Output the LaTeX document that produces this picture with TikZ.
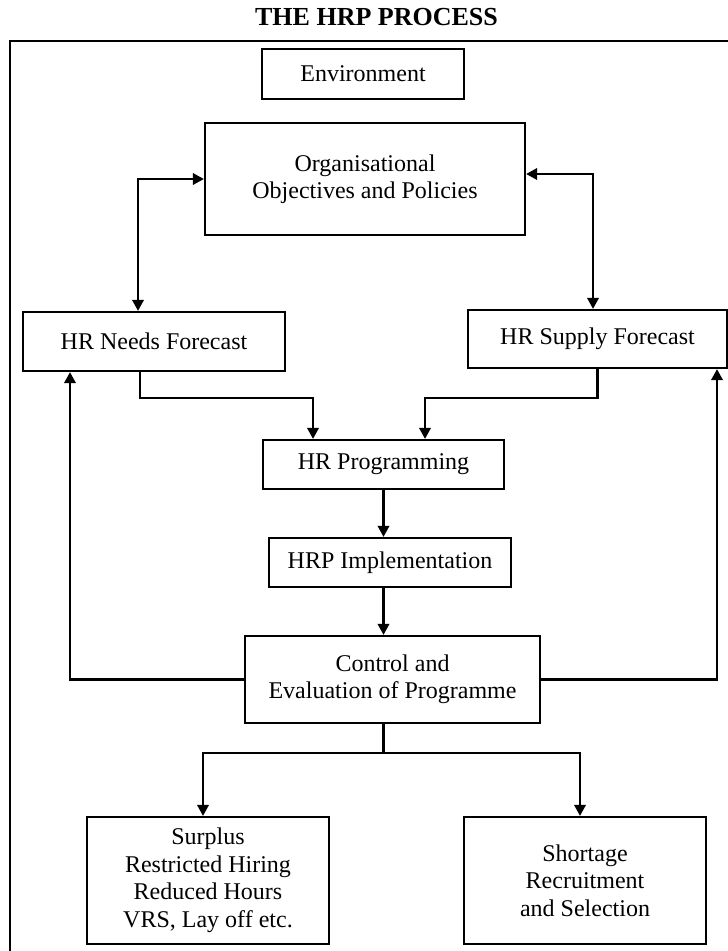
\documentclass[tikz,border=0pt]{standalone}
\usepackage{fontspec}
\setmainfont{Liberation Serif}
\usetikzlibrary{arrows.meta}
\tikzset{
  box/.style={draw=black, line width=2.3pt, fill=white, align=center, inner sep=0pt,
    font=\fontsize{24}{27.5}\selectfont},
  conn/.style={line width=2.1pt, draw=black},
  arr/.style={conn, -{Triangle[length=11pt,width=11.5pt]}},
  darr/.style={conn, {Triangle[length=11pt,width=11.5pt]}-{Triangle[length=11pt,width=11.5pt]}},
}
\begin{document}
\begin{tikzpicture}[x=1pt, y=-1pt]
\clip (0,0) rectangle (728,951);
\fill[white] (0,0) rectangle (728,951);
% outer frame (runs past the right and bottom edges)
\draw[line width=2pt] (10,960) -- (10,41) -- (740,41);
% title
\node (title) at (376.5,17.5) {\fontsize{26}{30}\selectfont\bfseries THE HRP PROCESS};
% boxes
\node[box, line width=2.8pt, minimum width=202pt, minimum height=50pt] (env) at (363,74) {Environment};
\node[box, minimum width=320pt, minimum height=112pt] (org) at (365,179) {Organisational\\Objectives and Policies};
\node[box, minimum width=262pt, minimum height=59pt] (needs) at (154,341.5) {HR Needs Forecast};
\node[box, minimum width=259pt, minimum height=58pt] (supply) at (597.5,339) {HR Supply Forecast};
\node[box, minimum width=241pt, minimum height=49pt] (prog) at (383.5,464.5) {HR Programming};
\node[box, minimum width=242pt, minimum height=49pt] (impl) at (390,562.5) {HRP Implementation};
\node[box, minimum width=295pt, minimum height=87pt] (ctrl) at (392.5,679.5) {Control and\\Evaluation of Programme};
\node[box, minimum width=242pt, minimum height=127pt] (surplus) at (208,880.5) {Surplus\\Restricted Hiring\\Reduced Hours\\VRS, Lay off etc.};
\node[box, minimum width=242pt, minimum height=127pt] (shortage) at (585,880.5) {Shortage\\Recruitment\\and Selection};
% helper coordinates
\coordinate (lk) at (138,179);
\coordinate (rk) at (593,174);
\coordinate (n1) at (140,398);
\coordinate (n2) at (313,398);
\coordinate (s2) at (425,398);
\coordinate (fl) at (70,682);
\coordinate (fr) at (717,682);
\coordinate (j) at (383.5,753);
\coordinate (jl) at (203,753);
\coordinate (jr) at (580,753);
% connectors
\draw[darr] (org.west |- lk) -- (lk) -- (lk |- needs.north);
\draw[darr] (org.east |- rk) -- (rk) -- (rk |- supply.north);
\draw[arr] (n1 |- needs.south) -- (n1) -- (n2) -- (n2 |- prog.north);
\draw[arr] (supply.south) |- (s2) -- (s2 |- prog.north);
\draw[arr] (prog.south) -- (prog.south |- impl.north);
\draw[arr] (prog.south |- impl.south) -- (prog.south |- ctrl.north);
\draw[arr] (ctrl.west) -| (fl |- needs.south);
\draw[arr] (ctrl.east) -| (fr |- supply.south);
\draw[conn] (j |- ctrl.south) -- (j);
\draw[arr] (j) -| (jl |- surplus.north);
\draw[arr] (j) -| (jr |- shortage.north);
\end{tikzpicture}
\end{document}
